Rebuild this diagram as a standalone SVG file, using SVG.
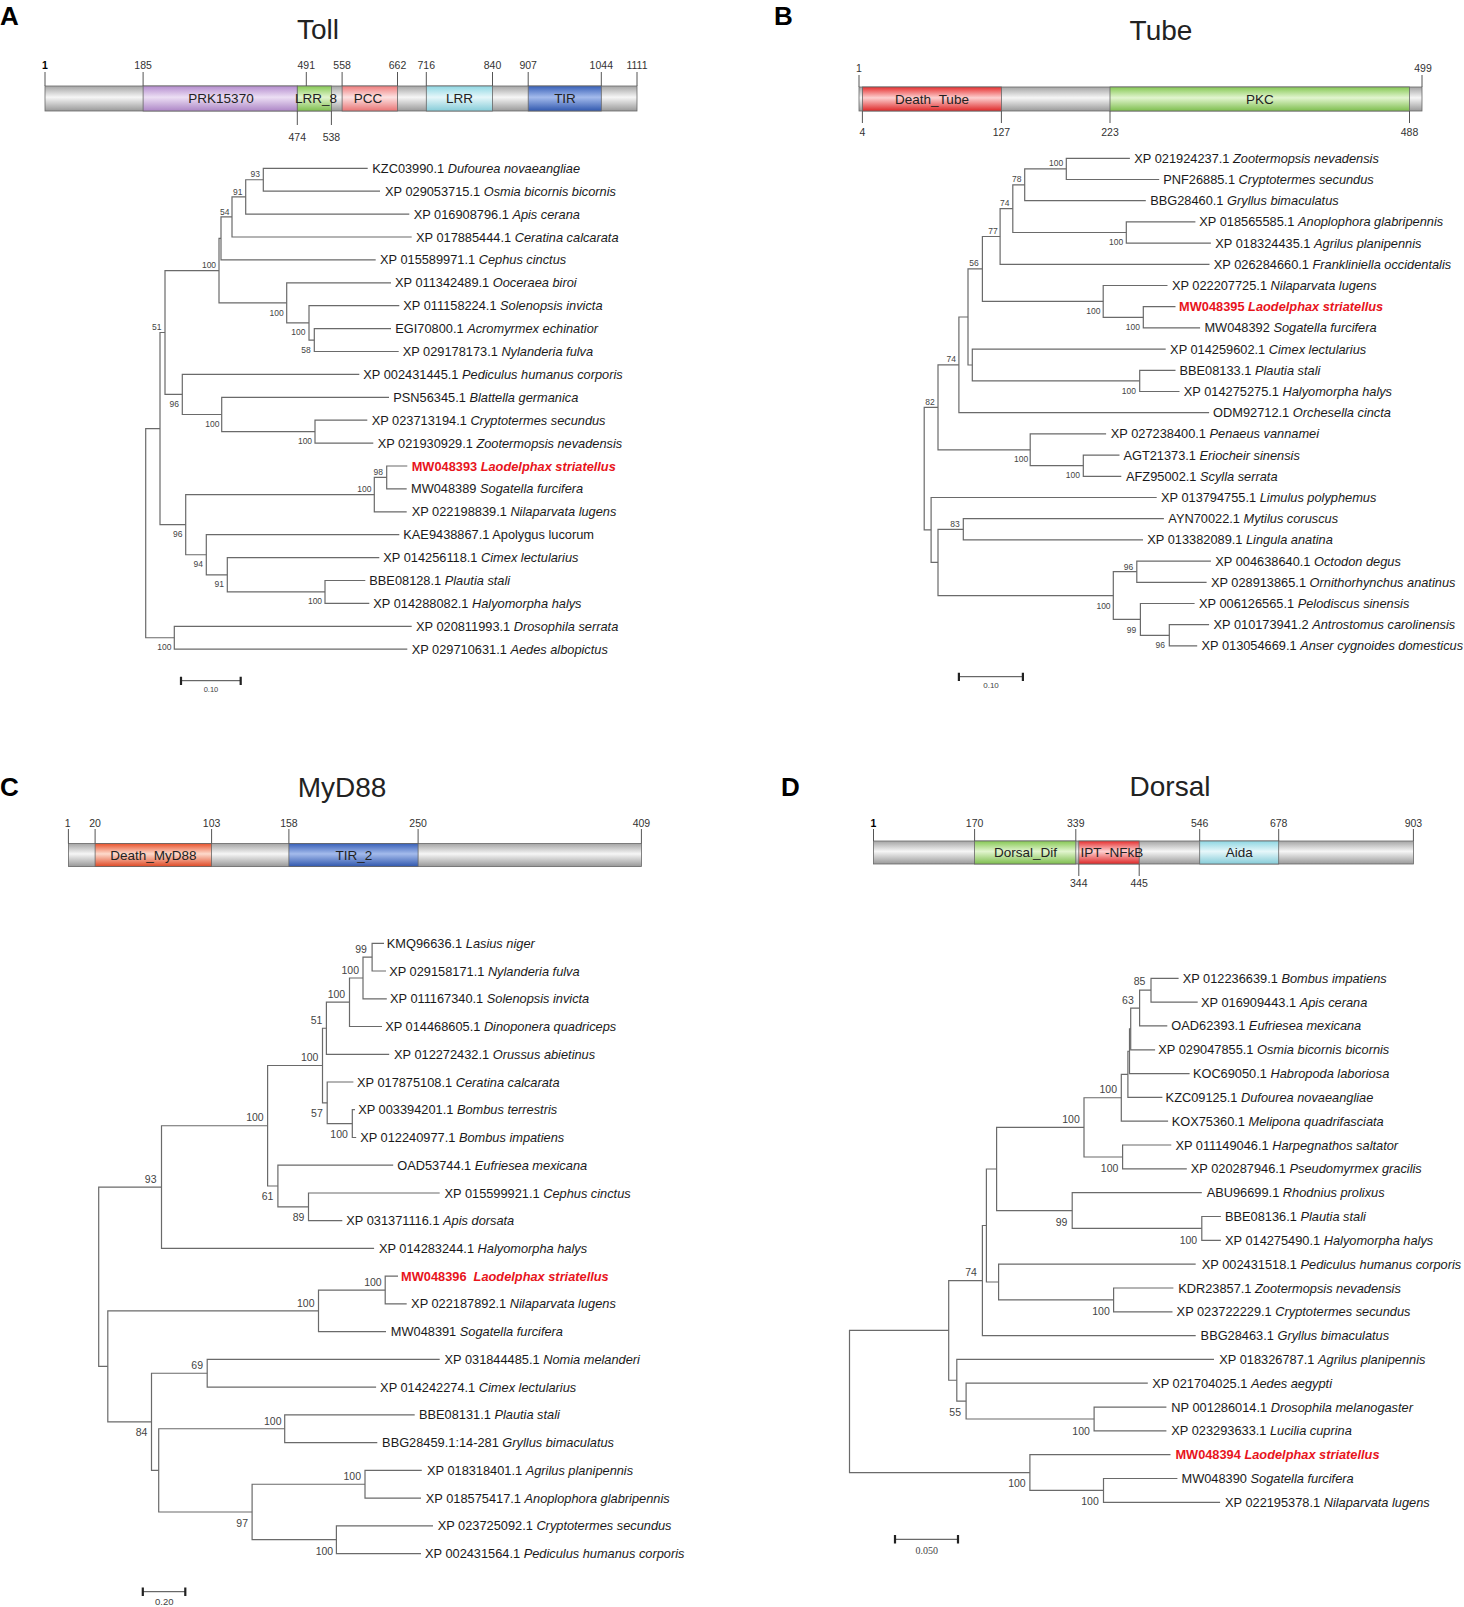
<svg xmlns="http://www.w3.org/2000/svg" width="1464" height="1607" viewBox="0 0 1464 1607">
<style>
text{font-family:"Liberation Sans",Arial,sans-serif}
.pl{font-size:26px;font-weight:bold;fill:#000}
.tt{font-size:28px;fill:#222;text-anchor:middle}
.n{font-size:10.5px;fill:#333;text-anchor:middle}
.nb{font-weight:bold;fill:#000}
.dm{font-size:13.5px;fill:#222;text-anchor:middle}
.tk{stroke:#555;stroke-width:1;fill:none}
.bar{stroke:#666;stroke-width:0.8}
.t{font-size:12.8px;fill:#1a1a1a}
.i{font-style:italic}
.r{fill:#e8141c;font-weight:bold}
.br{fill:none;stroke:#6a6a6a;stroke-width:1.2}
.bs{font-family:"Liberation Serif",serif;font-size:8.5px;fill:#444;text-anchor:middle}
.bl{font-size:10.5px}
.sb{stroke:#444;stroke-width:1}
.sbe{stroke:#222;stroke-width:2.2}
.sl{font-size:8px;fill:#444;text-anchor:middle}
</style>
<defs>
<linearGradient id="gGray" x1="0" y1="0" x2="0" y2="1"><stop offset="0" stop-color="#a4a4a4"/><stop offset="0.45" stop-color="#f6f6f6"/><stop offset="1" stop-color="#999"/></linearGradient>
<linearGradient id="gPur" x1="0" y1="0" x2="0" y2="1"><stop offset="0" stop-color="#b48cce"/><stop offset="0.45" stop-color="#ecdff4"/><stop offset="1" stop-color="#ad86c6"/></linearGradient>
<linearGradient id="gGrn" x1="0" y1="0" x2="0" y2="1"><stop offset="0" stop-color="#86c854"/><stop offset="0.45" stop-color="#e2f5cf"/><stop offset="1" stop-color="#7ebe4e"/></linearGradient>
<linearGradient id="gPnk" x1="0" y1="0" x2="0" y2="1"><stop offset="0" stop-color="#ee7c7c"/><stop offset="0.45" stop-color="#fde2e2"/><stop offset="1" stop-color="#e87474"/></linearGradient>
<linearGradient id="gCyn" x1="0" y1="0" x2="0" y2="1"><stop offset="0" stop-color="#8ed6e2"/><stop offset="0.45" stop-color="#e6f7fa"/><stop offset="1" stop-color="#86ccd8"/></linearGradient>
<linearGradient id="gBlu" x1="0" y1="0" x2="0" y2="1"><stop offset="0" stop-color="#3860b8"/><stop offset="0.45" stop-color="#a4bbec"/><stop offset="1" stop-color="#3158ae"/></linearGradient>
<linearGradient id="gRed" x1="0" y1="0" x2="0" y2="1"><stop offset="0" stop-color="#e63030"/><stop offset="0.45" stop-color="#fdd0d0"/><stop offset="1" stop-color="#de2828"/></linearGradient>
<linearGradient id="gOrg" x1="0" y1="0" x2="0" y2="1"><stop offset="0" stop-color="#e8522c"/><stop offset="0.45" stop-color="#fddacc"/><stop offset="1" stop-color="#df4a26"/></linearGradient>
</defs>
<rect width="1464" height="1607" fill="#fff"/>

<!-- ================= PANEL A : Toll ================= -->
<g id="panelA-head">
<text class="pl" x="0" y="25">A</text>
<text class="tt" x="318" y="39">Toll</text>
</g>
<g id="toll-domains">
<rect class="bar" x="45" y="86" width="592" height="25" fill="url(#gGray)"/>
<rect class="bar" x="143.1" y="86" width="154.2" height="25" fill="url(#gPur)"/>
<rect class="bar" x="297.3" y="86" width="34.1" height="25" fill="url(#gGrn)"/>
<rect class="bar" x="342.1" y="86" width="55.4" height="25" fill="url(#gPnk)"/>
<rect class="bar" x="426.3" y="86" width="66.2" height="25" fill="url(#gCyn)"/>
<rect class="bar" x="528.2" y="86" width="73.1" height="25" fill="url(#gBlu)"/>
<path class="tk" d="M45,72V86M143.1,72V86M306.3,72V86M342.1,72V86M397.5,72V86M426.3,72V86M492.5,72V86M528.2,72V86M601.3,72V86M637,72V86M297.3,111V125M331.4,111V125"/>
<text class="n nb" x="45" y="68.5">1</text>
<text class="n" x="143.1" y="68.5">185</text>
<text class="n" x="306.3" y="68.5">491</text>
<text class="n" x="342.1" y="68.5">558</text>
<text class="n" x="397.5" y="68.5">662</text>
<text class="n" x="426.3" y="68.5">716</text>
<text class="n" x="492.5" y="68.5">840</text>
<text class="n" x="528.2" y="68.5">907</text>
<text class="n" x="601.3" y="68.5">1044</text>
<text class="n" x="637" y="68.5">1111</text>
<text class="n" x="297.3" y="140.5">474</text>
<text class="n" x="331.4" y="140.5">538</text>
<text class="dm" x="221" y="103.2">PRK15370</text>
<text class="dm" x="316" y="103.2">LRR_8</text>
<text class="dm" x="368" y="103.2">PCC</text>
<text class="dm" x="459.5" y="103.2">LRR</text>
<text class="dm" x="565" y="103.2">TIR</text>
</g>
<g id="toll-branches" class="br">
<path d="M367.7,168.3H263.3V191.2H380"/>
<path d="M263.3,179.75H245.7V214.1H409.3"/>
<path d="M245.7,196.9H232V237H411.7"/>
<path d="M232,216.95H221V259.9H375.7"/>
<path d="M391,328.6H314.3V351.5H398.7"/>
<path d="M399.3,305.7H309V340.05H314.3"/>
<path d="M391,282.8H286.7V322.9H309"/>
<path d="M221,238.4H219V302.85H286.7"/>
<path d="M367.3,420.2H315V443.1H373.3"/>
<path d="M389,397.3H221.7V431.65H315"/>
<path d="M359.3,374.4H182.3V414.5H221.7"/>
<path d="M219,270.6H165V394.45H182.3"/>
<path d="M407.3,466H386.7V488.9H406.7"/>
<path d="M386.7,477.45H374.3V511.8H406.7"/>
<path d="M365.3,580.5H325V603.4H369.3"/>
<path d="M379.3,557.6H227.3V591.95H325"/>
<path d="M399.3,534.7H206.3V574.8H227.3"/>
<path d="M374.3,494.6H185.7V554.75H206.3"/>
<path d="M165,332.5H160V524.7H185.7"/>
<path d="M411.7,626.3H174.3V649.2H407.3"/>
<path d="M160,428.6H145.7V637.75H174.3"/>
</g>
<g id="toll-support" class="bs">
<text x="255.3" y="177">93</text>
<text x="237.7" y="194.7">91</text>
<text x="224.7" y="214.7">54</text>
<text x="209" y="268">100</text>
<text x="276.7" y="315.7">100</text>
<text x="298.3" y="335.3">100</text>
<text x="306" y="353">58</text>
<text x="156.7" y="329.7">51</text>
<text x="174.3" y="407">96</text>
<text x="212.3" y="427">100</text>
<text x="305" y="444">100</text>
<text x="378.3" y="474.7">98</text>
<text x="364.3" y="492.3">100</text>
<text x="177.7" y="537.3">96</text>
<text x="198.3" y="567">94</text>
<text x="219.3" y="587.3">91</text>
<text x="315" y="604">100</text>
<text x="164.3" y="650.3">100</text>
</g>
<g id="toll-tips" class="t">
<text x="372.3" y="172.8">KZC03990.1 <tspan class="i">Dufourea novaeangliae</tspan></text>
<text x="385" y="195.7">XP 029053715.1 <tspan class="i">Osmia bicornis bicornis</tspan></text>
<text x="413.7" y="218.6">XP 016908796.1 <tspan class="i">Apis cerana</tspan></text>
<text x="416" y="241.5">XP 017885444.1 <tspan class="i">Ceratina calcarata</tspan></text>
<text x="380" y="264.4">XP 015589971.1 <tspan class="i">Cephus cinctus</tspan></text>
<text x="395" y="287.3">XP 011342489.1 <tspan class="i">Ooceraea biroi</tspan></text>
<text x="403.3" y="310.2">XP 011158224.1 <tspan class="i">Solenopsis invicta</tspan></text>
<text x="395.3" y="333.1">EGI70800.1 <tspan class="i">Acromyrmex echinatior</tspan></text>
<text x="402.7" y="356">XP 029178173.1 <tspan class="i">Nylanderia fulva</tspan></text>
<text x="363.3" y="378.9">XP 002431445.1 <tspan class="i">Pediculus humanus corporis</tspan></text>
<text x="393.3" y="401.8">PSN56345.1 <tspan class="i">Blattella germanica</tspan></text>
<text x="371.7" y="424.7">XP 023713194.1 <tspan class="i">Cryptotermes secundus</tspan></text>
<text x="377.7" y="447.6">XP 021930929.1 <tspan class="i">Zootermopsis nevadensis</tspan></text>
<text class="r" x="411.7" y="470.5">MW048393 <tspan class="i">Laodelphax striatellus</tspan></text>
<text x="411" y="493.4">MW048389 <tspan class="i">Sogatella furcifera</tspan></text>
<text x="411.7" y="516.3">XP 022198839.1 <tspan class="i">Nilaparvata lugens</tspan></text>
<text x="403.3" y="539.2">KAE9438867.1 Apolygus lucorum</text>
<text x="383.3" y="562.1">XP 014256118.1 <tspan class="i">Cimex lectularius</tspan></text>
<text x="369.3" y="585">BBE08128.1 <tspan class="i">Plautia stali</tspan></text>
<text x="373.3" y="607.9">XP 014288082.1 <tspan class="i">Halyomorpha halys</tspan></text>
<text x="416" y="630.8">XP 020811993.1 <tspan class="i">Drosophila serrata</tspan></text>
<text x="411.7" y="653.7">XP 029710631.1 <tspan class="i">Aedes albopictus</tspan></text>
</g>
<g id="toll-scale">
<path class="sb" d="M181,680.7H240.7"/>
<path class="sbe" d="M181,676.7V685M240.7,676.7V685"/>
<text class="sl" x="211" y="692" style="font-size:7.5px">0.10</text>
</g>

<!-- ================= PANEL B : Tube ================= -->
<g id="panelB-head">
<text class="pl" x="774" y="25">B</text>
<text class="tt" x="1161" y="40">Tube</text>
</g>
<g id="tube-domains">
<rect class="bar" x="859" y="87" width="563" height="24" fill="url(#gGray)"/>
<rect class="bar" x="862.4" y="87" width="139" height="24" fill="url(#gRed)"/>
<rect class="bar" x="1110" y="87" width="299.5" height="24" fill="url(#gGrn)"/>
<path class="tk" d="M859,75V87M1422,75V87M862.4,111V123M1001.4,111V123M1110,111V123M1409.5,111V123"/>
<text class="n" x="859" y="71.5">1</text>
<text class="n" x="1423" y="71.5">499</text>
<text class="n" x="862.4" y="135.5">4</text>
<text class="n" x="1001.4" y="135.5">127</text>
<text class="n" x="1110" y="135.5">223</text>
<text class="n" x="1409.5" y="135.5">488</text>
<text class="dm" x="932" y="103.7">Death_Tube</text>
<text class="dm" x="1260" y="103.7">PKC</text>
</g>
<g id="tube-branches" class="br">
<path d="M1129.9,158.3H1066.3V179.5H1159.2"/>
<path d="M1066.3,168.9H1024.7V200.7H1145.8"/>
<path d="M1195.4,221.9H1126.3V243.1H1210.9"/>
<path d="M1024.7,184.8H1012.8V232.5H1126.3"/>
<path d="M1012.8,208.65H1000.1V264.3H1209.5"/>
<path d="M1175.5,306.7H1143.3V327.9H1200.1"/>
<path d="M1167.5,285.5H1103.2V317.3H1143.3"/>
<path d="M1000.1,236.5H982.4V301.4H1103.2"/>
<path d="M1175.5,370.3H1139.7V391.5H1179.5"/>
<path d="M1165.7,349.1H972.3V380.9H1139.7"/>
<path d="M982.4,268.95H968V365H972.3"/>
<path d="M968,317H958.9V412.7H1209.1"/>
<path d="M1119.5,455.1H1083.3V476.3H1121.3"/>
<path d="M1106.1,433.9H1030.2V465.7H1083.3"/>
<path d="M958.9,364.85H938V449.8H1030.2"/>
<path d="M1163.9,518.7H963.3V539.9H1143"/>
<path d="M1210.9,561.1H1136.8V582.3H1206.6"/>
<path d="M1209.1,624.7H1169.3V645.9H1197.2"/>
<path d="M1194.6,603.5H1140.4V635.3H1169.3"/>
<path d="M1136.8,571.7H1113.3V619.4H1140.4"/>
<path d="M963.3,529.3H938V595.55H1113.3"/>
<path d="M1156.7,497.5H931.1V562.4H938"/>
<path d="M938,407.3H924.2V529.95H931.1"/>
</g>
<g id="tube-support" class="bs">
<text x="1056.2" y="166.3">100</text>
<text x="1016.8" y="182">78</text>
<text x="1004.8" y="206.3">74</text>
<text x="992.9" y="234">77</text>
<text x="1116.2" y="245.3">100</text>
<text x="974.1" y="266.3">56</text>
<text x="1093.4" y="314">100</text>
<text x="1132.8" y="329.7">100</text>
<text x="1128.8" y="393.7">100</text>
<text x="951.3" y="362.3">74</text>
<text x="930" y="404.7">82</text>
<text x="1021.1" y="462.3">100</text>
<text x="1072.8" y="478">100</text>
<text x="955" y="527">83</text>
<text x="1128.5" y="569.7">96</text>
<text x="1103.5" y="608.7">100</text>
<text x="1131.4" y="633">99</text>
<text x="1160.3" y="648.3">96</text>
</g>
<g id="tube-tips" class="t">
<text x="1134.3" y="162.8">XP 021924237.1 <tspan class="i">Zootermopsis nevadensis</tspan></text>
<text x="1163.2" y="184">PNF26885.1 <tspan class="i">Cryptotermes secundus</tspan></text>
<text x="1150.2" y="205.2">BBG28460.1 <tspan class="i">Gryllus bimaculatus</tspan></text>
<text x="1199.3" y="226.4">XP 018565585.1 <tspan class="i">Anoplophora glabripennis</tspan></text>
<text x="1215.3" y="247.6">XP 018324435.1 <tspan class="i">Agrilus planipennis</tspan></text>
<text x="1213.8" y="268.8">XP 026284660.1 <tspan class="i">Frankliniella occidentalis</tspan></text>
<text x="1171.9" y="290">XP 022207725.1 <tspan class="i">Nilaparvata lugens</tspan></text>
<text class="r" x="1179.1" y="311.2">MW048395 <tspan class="i">Laodelphax striatellus</tspan></text>
<text x="1204.4" y="332.4">MW048392 <tspan class="i">Sogatella furcifera</tspan></text>
<text x="1170.1" y="353.6">XP 014259602.1 <tspan class="i">Cimex lectularius</tspan></text>
<text x="1179.5" y="374.8">BBE08133.1 <tspan class="i">Plautia stali</tspan></text>
<text x="1183.8" y="396">XP 014275275.1 <tspan class="i">Halyomorpha halys</tspan></text>
<text x="1213.1" y="417.2">ODM92712.1 <tspan class="i">Orchesella cincta</tspan></text>
<text x="1110.8" y="438.4">XP 027238400.1 <tspan class="i">Penaeus vannamei</tspan></text>
<text x="1123.4" y="459.6">AGT21373.1 <tspan class="i">Eriocheir sinensis</tspan></text>
<text x="1126" y="480.8">AFZ95002.1 <tspan class="i">Scylla serrata</tspan></text>
<text x="1161" y="502">XP 013794755.1 <tspan class="i">Limulus polyphemus</tspan></text>
<text x="1168.3" y="523.2">AYN70022.1 <tspan class="i">Mytilus coruscus</tspan></text>
<text x="1147.3" y="544.4">XP 013382089.1 <tspan class="i">Lingula anatina</tspan></text>
<text x="1215.3" y="565.6">XP 004638640.1 <tspan class="i">Octodon degus</tspan></text>
<text x="1210.9" y="586.8">XP 028913865.1 <tspan class="i">Ornithorhynchus anatinus</tspan></text>
<text x="1199" y="608">XP 006126565.1 <tspan class="i">Pelodiscus sinensis</tspan></text>
<text x="1213.5" y="629.2">XP 010173941.2 <tspan class="i">Antrostomus carolinensis</tspan></text>
<text x="1201.5" y="650.4">XP 013054669.1 <tspan class="i">Anser cygnoides domesticus</tspan></text>
</g>
<g id="tube-scale">
<path class="sb" d="M958.9,676.7H1022.9"/>
<path class="sbe" d="M958.9,672.7V681M1022.9,672.7V681"/>
<text class="sl" x="991" y="688">0.10</text>
</g>

<!-- ================= PANEL C : MyD88 ================= -->
<g id="panelC-head">
<text class="pl" x="0" y="796">C</text>
<text class="tt" x="342" y="797">MyD88</text>
</g>
<g id="myd88-domains">
<rect class="bar" x="68.4" y="843.5" width="573" height="23" fill="url(#gGray)"/>
<rect class="bar" x="95.1" y="843.5" width="116.5" height="23" fill="url(#gOrg)"/>
<rect class="bar" x="288.9" y="843.5" width="129.2" height="23" fill="url(#gBlu)"/>
<path class="tk" d="M68.4,829V843.5M95.1,829V843.5M211.6,829V843.5M288.9,829V843.5M418.1,829V843.5M641.4,829V843.5"/>
<text class="n" x="67.6" y="826.5">1</text>
<text class="n" x="95.1" y="826.5">20</text>
<text class="n" x="211.6" y="826.5">103</text>
<text class="n" x="288.9" y="826.5">158</text>
<text class="n" x="418.1" y="826.5">250</text>
<text class="n" x="641.4" y="826.5">409</text>
<text class="dm" x="153.4" y="859.7">Death_MyD88</text>
<text class="dm" x="354" y="859.7">TIR_2</text>
</g>
<g id="myd88-branches" class="br">
<path d="M384,943.3H372.1V971H386"/>
<path d="M372.1,957.15H363V998.8H386.8"/>
<path d="M363,977.98H349.5V1026.5H382"/>
<path d="M349.5,1002.2H326.4V1054.3H389.2"/>
<path d="M355,1109.7H352.3V1137.5H356.2"/>
<path d="M353.4,1082H327.2V1123.6H352.3"/>
<path d="M326.4,1028.25H322.5V1102.8H327.2"/>
<path d="M439.7,1193H308.5V1220.7H342.3"/>
<path d="M393.2,1165.2H277.9V1206.85H308.5"/>
<path d="M322.5,1065.5H267.6V1186H277.9"/>
<path d="M267.6,1125.75H161.5V1248.4H374.1"/>
<path d="M398,1276.2H385.2V1303.9H406.7"/>
<path d="M385.2,1290.05H318.5V1331.7H386"/>
<path d="M439.7,1359.4H207.2V1387.1H376.1"/>
<path d="M414.7,1414.9H284.7V1442.6H377.3"/>
<path d="M421.8,1470.4H365V1498.1H421"/>
<path d="M433,1525.8H336.4V1553.6H421"/>
<path d="M365,1484.25H252.1V1539.7H336.4"/>
<path d="M284.7,1428.75H158.7V1511.98H252.1"/>
<path d="M207.2,1373.25H151.5V1470.4H158.7"/>
<path d="M318.5,1310.9H107.8V1421.8H151.5"/>
<path d="M161.5,1187.1H98.7V1366.35H107.8"/>
</g>
<g id="myd88-support" class="bs bl">
<text x="361" y="953">99</text>
<text x="350.3" y="973.7">100</text>
<text x="336.4" y="997.7">100</text>
<text x="316.5" y="1023.7">51</text>
<text x="309.7" y="1061">100</text>
<text x="316.9" y="1117">57</text>
<text x="339.1" y="1138">100</text>
<text x="254.9" y="1121.4">100</text>
<text x="267.6" y="1200.4">61</text>
<text x="298.6" y="1221.4">89</text>
<text x="150.7" y="1182.7">93</text>
<text x="372.9" y="1286">100</text>
<text x="305.8" y="1307">100</text>
<text x="197.2" y="1369.4">69</text>
<text x="272.8" y="1424.7">100</text>
<text x="141.6" y="1436.4">84</text>
<text x="352.3" y="1480.4">100</text>
<text x="242.2" y="1527">97</text>
<text x="324.4" y="1554.7">100</text>
</g>
<g id="myd88-tips" class="t">
<text x="386.8" y="947.8">KMQ96636.1 <tspan class="i">Lasius niger</tspan></text>
<text x="389.2" y="975.5">XP 029158171.1 <tspan class="i">Nylanderia fulva</tspan></text>
<text x="390" y="1003.3">XP 011167340.1 <tspan class="i">Solenopsis invicta</tspan></text>
<text x="385.2" y="1031">XP 014468605.1 <tspan class="i">Dinoponera quadriceps</tspan></text>
<text x="394" y="1058.8">XP 012272432.1 <tspan class="i">Orussus abietinus</tspan></text>
<text x="357" y="1086.5">XP 017875108.1 <tspan class="i">Ceratina calcarata</tspan></text>
<text x="358.2" y="1114.2">XP 003394201.1 <tspan class="i">Bombus terrestris</tspan></text>
<text x="360.2" y="1142">XP 012240977.1 <tspan class="i">Bombus impatiens</tspan></text>
<text x="397.2" y="1169.7">OAD53744.1 <tspan class="i">Eufriesea mexicana</tspan></text>
<text x="444.5" y="1197.5">XP 015599921.1 <tspan class="i">Cephus cinctus</tspan></text>
<text x="346.3" y="1225.2">XP 031371116.1 <tspan class="i">Apis dorsata</tspan></text>
<text x="378.9" y="1252.9">XP 014283244.1 <tspan class="i">Halyomorpha halys</tspan></text>
<text class="r" x="401.1" y="1280.7">MW048396 <tspan class="i" dx="3.5">Laodelphax striatellus</tspan></text>
<text x="411.1" y="1308.4">XP 022187892.1 <tspan class="i">Nilaparvata lugens</tspan></text>
<text x="390.8" y="1336.2">MW048391 <tspan class="i">Sogatella furcifera</tspan></text>
<text x="444.5" y="1363.9">XP 031844485.1 <tspan class="i">Nomia melanderi</tspan></text>
<text x="380.1" y="1391.6">XP 014242274.1 <tspan class="i">Cimex lectularius</tspan></text>
<text x="419" y="1419.4">BBE08131.1 <tspan class="i">Plautia stali</tspan></text>
<text x="382.1" y="1447.1">BBG28459.1:14-281 <tspan class="i">Gryllus bimaculatus</tspan></text>
<text x="427" y="1474.9">XP 018318401.1 <tspan class="i">Agrilus planipennis</tspan></text>
<text x="425.8" y="1502.6">XP 018575417.1 <tspan class="i">Anoplophora glabripennis</tspan></text>
<text x="437.7" y="1530.3">XP 023725092.1 <tspan class="i">Cryptotermes secundus</tspan></text>
<text x="425" y="1558.1">XP 002431564.1 <tspan class="i">Pediculus humanus corporis</tspan></text>
</g>
<g id="myd88-scale">
<path class="sb" d="M142.8,1591.7H185.3"/>
<path class="sbe" d="M142.8,1587.5V1596M185.3,1587.5V1596"/>
<text class="sl" x="164.3" y="1605" style="font-size:9.5px">0.20</text>
</g>

<!-- ================= PANEL D : Dorsal ================= -->
<g id="panelD-head">
<text class="pl" x="781" y="796">D</text>
<text class="tt" x="1170" y="796">Dorsal</text>
</g>
<g id="dorsal-domains">
<rect class="bar" x="873.5" y="841" width="539.9" height="23" fill="url(#gGray)"/>
<rect class="bar" x="974.6" y="841" width="101.2" height="23" fill="url(#gGrn)"/>
<rect class="bar" x="1078.8" y="841" width="60.4" height="23" fill="url(#gRed)"/>
<rect class="bar" x="1199.7" y="841" width="79" height="23" fill="url(#gCyn)"/>
<path class="tk" d="M873.5,829V841M974.6,829V841M1075.8,829V841M1199.7,829V841M1278.7,829V841M1413.4,829V841M1078.8,864V876M1139.2,864V876"/>
<text class="n nb" x="873.5" y="826.5">1</text>
<text class="n" x="974.6" y="826.5">170</text>
<text class="n" x="1075.8" y="826.5">339</text>
<text class="n" x="1199.7" y="826.5">546</text>
<text class="n" x="1278.7" y="826.5">678</text>
<text class="n" x="1413.4" y="826.5">903</text>
<text class="n" x="1078.8" y="887">344</text>
<text class="n" x="1139.2" y="887">445</text>
<text class="dm" x="1025.5" y="857.2">Dorsal_Dif</text>
<text class="dm" x="1112" y="857.2">IPT -NFkB</text>
<text class="dm" x="1239.2" y="857.2">Aida</text>
</g>
<g id="dorsal-branches" class="br">
<path d="M1178.6,978.3H1151V1002.1H1197.7"/>
<path d="M1151,990.2H1139.6V1025.9H1167.3"/>
<path d="M1139.6,1008.05H1130.7V1049.8H1155.1"/>
<path d="M1130.7,1028.9H1129.5V1073.6H1189.6"/>
<path d="M1129.5,1051.25H1127.9V1097.4H1162.4"/>
<path d="M1127.9,1074.3H1121.3V1121.2H1168.1"/>
<path d="M1171.3,1145H1122.6V1168.9H1186.8"/>
<path d="M1121.3,1097.75H1084V1157H1122.6"/>
<path d="M1220.9,1216.5H1201.8V1240.3H1220.9"/>
<path d="M1201.8,1192.7H1072.2V1228.4H1201.8"/>
<path d="M1084,1127.4H996.6V1210.55H1072.2"/>
<path d="M1173.4,1288H1113.6V1311.8H1172.5"/>
<path d="M1195.7,1264.1H998.6V1299.9H1113.6"/>
<path d="M996.6,1168.98H986.4V1282H998.6"/>
<path d="M986.4,1225.5H982.4V1335.6H1195.7"/>
<path d="M1166.4,1407.1H1094.1V1430.9H1166.4"/>
<path d="M1147.8,1383.2H966.1V1419H1094.1"/>
<path d="M1214,1359.4H956.8V1401.1H966.1"/>
<path d="M982.4,1280.55H948.7V1380.25H956.8"/>
<path d="M1177.4,1478.5H1103.5V1502.3H1220.1"/>
<path d="M1170.5,1454.7H1029.9V1490.4H1103.5"/>
<path d="M948.7,1330.4H849.5V1472.55H1029.9"/>
</g>
<g id="dorsal-support" class="bs bl">
<text x="1139.6" y="985.4">85</text>
<text x="1127.9" y="1003.7">63</text>
<text x="1108.3" y="1093">100</text>
<text x="1071" y="1122.7">100</text>
<text x="1109.6" y="1172">100</text>
<text x="1061.6" y="1226.4">99</text>
<text x="1188.4" y="1243.7">100</text>
<text x="971" y="1276.4">74</text>
<text x="1101" y="1314.7">100</text>
<text x="955.2" y="1416.4">55</text>
<text x="1081.1" y="1434.7">100</text>
<text x="1016.9" y="1487">100</text>
<text x="1090" y="1505.4">100</text>
</g>
<g id="dorsal-tips" class="t">
<text x="1182.7" y="982.8">XP 012236639.1 <tspan class="i">Bombus impatiens</tspan></text>
<text x="1201" y="1006.6">XP 016909443.1 <tspan class="i">Apis cerana</tspan></text>
<text x="1171.3" y="1030.4">OAD62393.1 <tspan class="i">Eufriesea mexicana</tspan></text>
<text x="1158.3" y="1054.3">XP 029047855.1 <tspan class="i">Osmia bicornis bicornis</tspan></text>
<text x="1192.9" y="1078.1">KOC69050.1 <tspan class="i">Habropoda laboriosa</tspan></text>
<text x="1165.6" y="1101.9">KZC09125.1 <tspan class="i">Dufourea novaeangliae</tspan></text>
<text x="1171.7" y="1125.7">KOX75360.1 <tspan class="i">Melipona quadrifasciata</tspan></text>
<text x="1175.4" y="1149.5">XP 011149046.1 <tspan class="i">Harpegnathos saltator</tspan></text>
<text x="1190.8" y="1173.4">XP 020287946.1 <tspan class="i">Pseudomyrmex gracilis</tspan></text>
<text x="1206.7" y="1197.2">ABU96699.1 <tspan class="i">Rhodnius prolixus</tspan></text>
<text x="1225" y="1221">BBE08136.1 <tspan class="i">Plautia stali</tspan></text>
<text x="1225" y="1244.8">XP 014275490.1 <tspan class="i">Halyomorpha halys</tspan></text>
<text x="1201.8" y="1268.6">XP 002431518.1 <tspan class="i">Pediculus humanus corporis</tspan></text>
<text x="1178.2" y="1292.5">KDR23857.1 <tspan class="i">Zootermopsis nevadensis</tspan></text>
<text x="1176.6" y="1316.3">XP 023722229.1 <tspan class="i">Cryptotermes secundus</tspan></text>
<text x="1200.6" y="1340.1">BBG28463.1 <tspan class="i">Gryllus bimaculatus</tspan></text>
<text x="1219.3" y="1363.9">XP 018326787.1 <tspan class="i">Agrilus planipennis</tspan></text>
<text x="1152.2" y="1387.7">XP 021704025.1 <tspan class="i">Aedes aegypti</tspan></text>
<text x="1171.3" y="1411.6">NP 001286014.1 <tspan class="i">Drosophila melanogaster</tspan></text>
<text x="1171.3" y="1435.4">XP 023293633.1 <tspan class="i">Lucilia cuprina</tspan></text>
<text class="r" x="1175.4" y="1459.2">MW048394 <tspan class="i">Laodelphax striatellus</tspan></text>
<text x="1181.5" y="1483">MW048390 <tspan class="i">Sogatella furcifera</tspan></text>
<text x="1225" y="1506.8">XP 022195378.1 <tspan class="i">Nilaparvata lugens</tspan></text>
</g>
<g id="dorsal-scale">
<path class="sb" d="M895,1539.3H958"/>
<path class="sbe" d="M895,1535V1543.6M958,1535V1543.6"/>
<text class="sl" x="926.7" y="1553.5" style="font-size:10px;font-family:'Liberation Serif',serif">0.050</text>
</g>
</svg>
